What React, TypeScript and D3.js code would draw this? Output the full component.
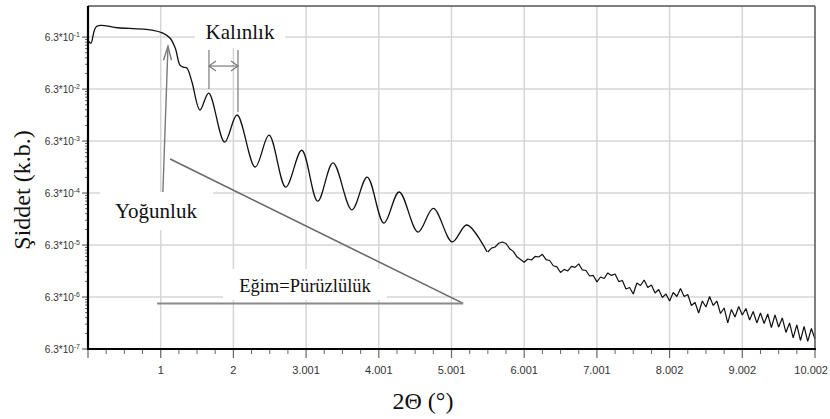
import React from "react";
import * as d3 from "d3";

// ---- data ----
// smooth low-angle part: 2θ (°) and intensity (a.u.)
const smoothX = [0.0, 0.04, 0.12, 0.41, 0.88, 1.03, 1.13, 1.2, 1.265, 1.31, 1.36, 1.43, 1.54, 1.66, 1.88, 2.05, 2.3, 2.49, 2.72, 2.94, 3.16, 3.37, 3.63, 3.84, 4.07, 4.28, 4.54, 4.75, 5.01, 5.21, 5.49];
const smoothY = [0.55, 0.48, 1.02, 0.953, 0.86, 0.753, 0.6, 0.388, 0.183, 0.167, 0.16, 0.086, 0.0249, 0.0528, 0.00604, 0.02, 0.002, 0.0082, 0.00082, 0.0042, 0.00044, 0.0024, 0.0003, 0.00128, 0.000166, 0.00066, 0.000112, 0.00032, 0.0000725, 0.000153, 0.0000463];

// noisy high-angle tail
const tailX = [5.5, 5.55, 5.6, 5.65, 5.7, 5.75, 5.8, 5.85, 5.9, 5.95, 6.0, 6.05, 6.1, 6.15, 6.2, 6.25, 6.3, 6.35, 6.4, 6.45, 6.5, 6.55, 6.6, 6.65, 6.7, 6.75, 6.8, 6.85, 6.9, 6.95, 7.0, 7.05, 7.1, 7.15, 7.2, 7.25, 7.3, 7.35, 7.4, 7.45, 7.5, 7.55, 7.6, 7.65, 7.7, 7.75, 7.8, 7.85, 7.9, 7.95, 8.0, 8.05, 8.1, 8.15, 8.2, 8.25, 8.3, 8.35, 8.4, 8.45, 8.5, 8.55, 8.6, 8.65, 8.7, 8.75, 8.8, 8.85, 8.9, 8.95, 9.0, 9.05, 9.1, 9.15, 9.2, 9.25, 9.3, 9.35, 9.4, 9.45, 9.5, 9.55, 9.6, 9.65, 9.7, 9.75, 9.8, 9.85, 9.9, 9.95, 10.0];
const tailY = [4.63e-5, 5.48e-5, 5.78e-5, 6.81e-5, 7.21e-5, 6.75e-5, 5.34e-5, 4.76e-5, 3.74e-5, 3.32e-5, 2.94e-5, 3.4e-5, 3.25e-5, 3.8e-5, 3.71e-5, 4.18e-5, 3.29e-5, 3.18e-5, 2.52e-5, 2.39e-5, 1.87e-5, 2.14e-5, 2.0e-5, 2.44e-5, 2.34e-5, 2.73e-5, 2.09e-5, 2.04e-5, 1.6e-5, 1.64e-5, 1.23e-5, 1.53e-5, 1.43e-5, 1.83e-5, 1.64e-5, 1.75e-5, 1.25e-5, 1.31e-5, 8.99e-6, 9.61e-6, 7.2e-6, 1.17e-5, 1.05e-5, 1.34e-5, 9.61e-6, 1.07e-5, 7.53e-6, 8.79e-6, 6.18e-6, 7.2e-6, 5.28e-6, 7.7e-6, 6.45e-6, 9.19e-6, 6.45e-6, 7.04e-6, 4.33e-6, 4.94e-6, 3.11e-6, 5.28e-6, 4.05e-6, 6.45e-6, 4.33e-6, 5.28e-6, 3.04e-6, 3.88e-6, 2.0e-6, 3.63e-6, 2.6e-6, 4.15e-6, 2.85e-6, 3.79e-6, 2.28e-6, 3.32e-6, 2.0e-6, 3.11e-6, 1.95e-6, 2.97e-6, 1.63e-6, 2.85e-6, 1.67e-6, 2.49e-6, 1.31e-6, 2.0e-6, 1.03e-6, 1.83e-6, 9.19e-7, 1.71e-6, 8.8e-7, 1.56e-6, 9.83e-7];

const xTickValues = [1, 2, 3, 4, 5, 6, 7, 8, 9, 10];
const xTickLabels = ["1", "2", "3.001", "4.001", "5.001", "6.001", "7.001", "8.002", "9.002", "10.002"];
const yTickValues = [0.63, 0.063, 0.0063, 0.00063, 0.000063, 0.0000063, 0.00000063];
const yTickExponents = ["-1", "-2", "-3", "-4", "-5", "-6", "-7"];

const xTitle = "2Θ (°)";
const yTitle = "Şiddet (k.b.)";

export default function App() {
  const W = 830, H = 419;
  const left = 88, right = 815, top = 6, bottom = 349;
  const x = d3.scaleLinear().domain([0, 10]).range([left, right]);
  const y = d3.scaleLog().domain([6.3e-7, 2.5]).range([bottom, top]);

  const smooth = smoothX.map((v, i) => [v, smoothY[i]] as [number, number]);
  const tail = tailX.map((v, i) => [v, tailY[i]] as [number, number]);
  const lineSmooth = d3.line<[number, number]>().x(d => x(d[0])).y(d => y(d[1])).curve(d3.curveCatmullRom.alpha(0.5));
  const lineTail = d3.line<[number, number]>().x(d => x(d[0])).y(d => y(d[1]));

  const minorX = d3.range(0, 10.001, 0.25).filter(v => Math.abs(v - Math.round(v)) > 1e-6);
  const minorY: number[] = [];
  yTickValues.slice(1).forEach(b => { for (let k = 2; k <= 9; k++) minorY.push(b * k); });

  const grid = "#d6d6d6";
  const annot = "#7a7a7a";
  const serif = "'Liberation Serif', 'Times New Roman', serif";
  const sans = "'Liberation Sans Narrow', 'Liberation Sans', Arial, sans-serif";

  // annotation anchor points (data space)
  const kx1 = 1.664, kx2 = 2.063;

  return (
    <svg width={W} height={H} style={{ position: "absolute", left: 0, top: 0, background: "#fff" }}>
      <rect x={0} y={0} width={W} height={H} fill="#fff" />
      {/* grid */}
      {xTickValues.slice(0, 9).map(v => (
        <line key={"gx" + v} x1={x(v)} x2={x(v)} y1={top} y2={bottom} stroke={grid} strokeWidth={1.5} />
      ))}
      {yTickValues.slice(0, 6).map(v => (
        <line key={"gy" + v} x1={left} x2={right} y1={y(v)} y2={y(v)} stroke={grid} strokeWidth={1.5} />
      ))}

      {/* white label boxes */}
      <rect x={195} y={top + 1} width={90} height={41} fill="#fff" />
      <rect x={100} y={192} width={113} height={38} fill="#fff" />
      <rect x={223} y={269} width={164} height={31} fill="#fff" />

      {/* curve */}
      <path d={lineSmooth(smooth) || ""} fill="none" stroke="#111" strokeWidth={1.3} />
      <path d={lineTail(tail) || ""} fill="none" stroke="#111" strokeWidth={1.2} strokeLinejoin="bevel" />

      {/* thickness bracket */}
      <line x1={x(kx1)} x2={x(kx1)} y1={y(0.355)} y2={y(0.063)} stroke={annot} strokeWidth={1.2} />
      <line x1={x(kx2)} x2={x(kx2)} y1={y(0.355)} y2={y(0.0228)} stroke={annot} strokeWidth={1.2} />
      <line x1={x(kx1)} x2={x(kx2)} y1={y(0.175)} y2={y(0.175)} stroke={annot} strokeWidth={1.2} />
      <polyline points={`${x(kx1) + 7},${y(0.175) - 5} ${x(kx1)},${y(0.175)} ${x(kx1) + 7},${y(0.175) + 5}`} fill="none" stroke={annot} strokeWidth={1.2} />
      <polyline points={`${x(kx2) - 7},${y(0.175) - 5} ${x(kx2)},${y(0.175)} ${x(kx2) - 7},${y(0.175) + 5}`} fill="none" stroke={annot} strokeWidth={1.2} />

      {/* density arrow */}
      <line x1={x(1.03)} y1={y(6.6e-4)} x2={x(1.1)} y2={y(0.42)} stroke={annot} strokeWidth={1.4} />
      <polyline points={`${x(1.1) - 4.5},${y(0.42) + 14} ${x(1.1)},${y(0.42)} ${x(1.1) + 3.5},${y(0.42) + 14}`} fill="none" stroke={annot} strokeWidth={1.4} />

      {/* slope triangle */}
      <line x1={x(1.13)} y1={y(2.84e-3)} x2={x(5.16)} y2={y(4.75e-6)} stroke="#6a6a6a" strokeWidth={1.6} />
      <line x1={x(0.95)} y1={y(4.75e-6)} x2={x(5.16)} y2={y(4.75e-6)} stroke="#8a8a8a" strokeWidth={2} />

      {/* annotation texts */}
      <text x={240} y={39} textAnchor="middle" fontFamily={serif} fontSize={21} fill="#111">Kalınlık</text>
      <text x={156} y={218} textAnchor="middle" fontFamily={serif} fontSize={21} fill="#111">Yoğunluk</text>
      <text x={305} y={292} textAnchor="middle" fontFamily={serif} fontSize={18.5} fill="#111">Eğim=Pürüzlülük</text>

      {/* frame */}
      <line x1={left} x2={right} y1={top} y2={top} stroke="#555" strokeWidth={1.5} />
      <line x1={right} x2={right} y1={top} y2={bottom} stroke="#555" strokeWidth={1.5} />

      {/* y axis */}
      {minorY.map((v, i) => (
        <line key={"my" + i} x1={left - 3} x2={left} y1={y(v)} y2={y(v)} stroke="#666" strokeWidth={1} />
      ))}
      {yTickValues.map((v, i) => (
        <g key={"yt" + i}>
          <line x1={left - 6} x2={left} y1={y(v)} y2={y(v)} stroke="#666" strokeWidth={1.2} />
          <text x={80} y={y(v) + 3.5} textAnchor="end" fontFamily={sans} fontSize={10} fill="#333">
            6.3*10<tspan dy={-4} fontSize={7}>{yTickExponents[i]}</tspan>
          </text>
        </g>
      ))}
      <line x1={left} x2={left} y1={top} y2={bottom + 1} stroke="#000" strokeWidth={2.2} />

      {/* x axis */}
      {minorX.map((v, i) => (
        <line key={"mx" + i} x1={x(v)} x2={x(v)} y1={bottom} y2={bottom + 5} stroke="#666" strokeWidth={1} />
      ))}
      {[0, ...xTickValues].map((v, i) => (
        <line key={"xt" + i} x1={x(v)} x2={x(v)} y1={bottom} y2={bottom + 9} stroke="#666" strokeWidth={1.2} />
      ))}
      {xTickValues.map((v, i) => {
        const last = i === xTickValues.length - 1;
        return (
          <text key={"xl" + i} x={last ? W - 2 : x(v)} y={374} textAnchor={last ? "end" : "middle"} fontFamily={sans} fontSize={11} fill="#333">{xTickLabels[i]}</text>
        );
      })}
      <line x1={left - 1} x2={right + 1} y1={bottom} y2={bottom} stroke="#000" strokeWidth={2.2} />

      {/* titles */}
      <text x={423} y={409} textAnchor="middle" fontFamily={serif} fontSize={24} fill="#111">{xTitle}</text>
      <text transform="translate(30,190) rotate(-90)" textAnchor="middle" fontFamily={serif} fontSize={24} fill="#111">{yTitle}</text>
    </svg>
  );
}
